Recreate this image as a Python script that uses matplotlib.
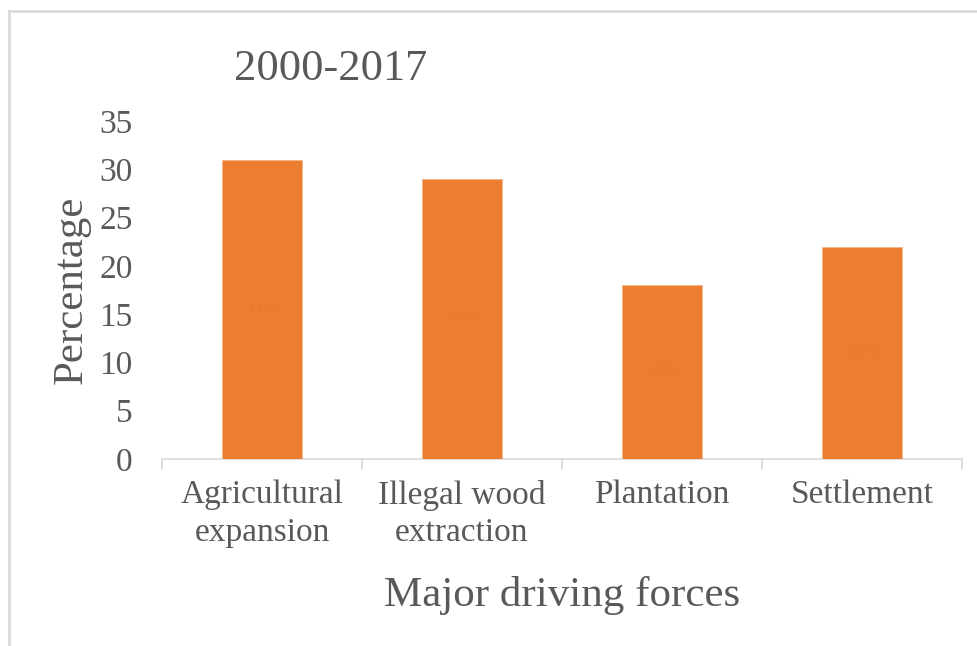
import matplotlib
matplotlib.use("Agg")
import matplotlib.pyplot as plt
from matplotlib.lines import Line2D
import numpy as np

categories = ["Agricultural\nexpansion", "Illegal wood\nextraction", "Plantation", "Settlement"]
values = [31, 29, 18, 22]
value_labels = ["31%", "29%", "18%", "22%"]
yticks = [0, 5, 10, 15, 20, 25, 30, 35]
title = "2000-2017"
xlabel = "Major driving forces"
ylabel = "Percentage"

plt.rcParams['font.family'] = ['Liberation Serif', 'DejaVu Serif']
text_color = '#595959'
grid_color = '#D9D9D9'
bar_color = '#ED7D31'

W, H = 978, 646
fig = plt.figure(figsize=(W / 100, H / 100), dpi=100)
fig.patch.set_facecolor('white')

ax = fig.add_axes([162 / W, 1 - 459 / H, 800 / W, (459 - 121) / H])
x = np.arange(len(categories))
ax.bar(x, values, width=0.4, color=bar_color, edgecolor='#F5B48A', linewidth=0.6, zorder=3)
for xi, v, lab in zip(x, values, value_labels):
    ax.text(xi, v / 2, lab, ha='center', va='center', fontsize=14, color='#EA7A30', zorder=4)

ax.set_xlim(-0.5, len(categories) - 0.5)
ax.set_ylim(0, 35)
ax.set_yticks(yticks)
ax.set_yticklabels([str(t) for t in yticks])
ax.set_xticks(x)
ax.set_xticklabels(categories, linespacing=1.3)
ax.set_xticks(np.arange(-0.5, len(categories), 1.0), minor=True)

for s in ['left', 'top', 'right']:
    ax.spines[s].set_visible(False)
ax.spines['bottom'].set_color(grid_color)
ax.spines['bottom'].set_linewidth(1.2)

ax.tick_params(axis='y', length=0, pad=21, labelsize=24, labelcolor=text_color)
ax.tick_params(axis='x', which='major', length=0, pad=15, labelsize=24, labelcolor=text_color)
ax.tick_params(axis='x', which='minor', length=8, width=1.2, color=grid_color)
for lbl in ax.get_xticklabels():
    lbl.set_verticalalignment('top')

ax.set_ylabel(ylabel, fontsize=31, color=text_color, labelpad=6)
ax.set_xlabel(xlabel, fontsize=31, color=text_color, labelpad=20)

fig.text(331 / W, 1 - 80 / H, title, ha='center', va='baseline', fontsize=32, color=text_color)

# outer frame (partially cropped)
fig.add_artist(Line2D([9 / W, 1.0], [1 - 11 / H, 1 - 11 / H], transform=fig.transFigure,
                      color=grid_color, linewidth=1.9))
fig.add_artist(Line2D([9 / W, 9 / W], [1 - 11 / H, 0.0], transform=fig.transFigure,
                      color=grid_color, linewidth=1.9))

fig.savefig("out.png", dpi=100, facecolor='white')
